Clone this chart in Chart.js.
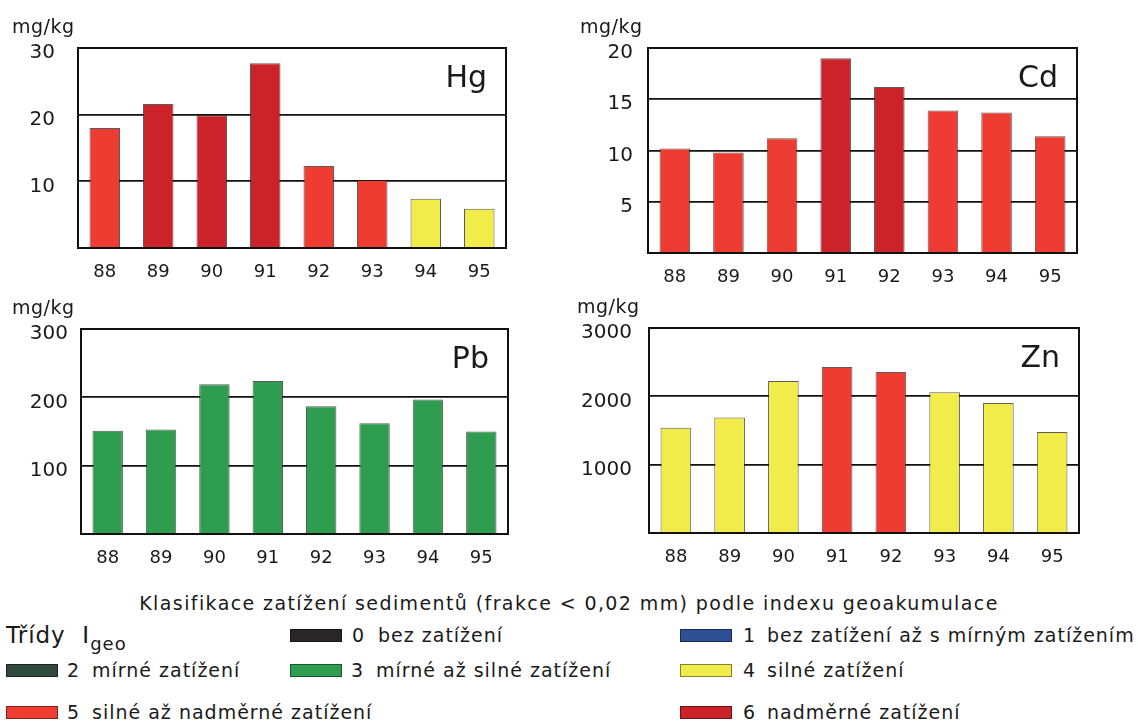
<!DOCTYPE html>
<html>
<head>
<meta charset="utf-8">
<script src="https://cdn.jsdelivr.net/npm/chart.js@4.4.0/dist/chart.umd.min.js"></script>
<style>
  body { margin: 0; background: #fff; width: 1138px; height: 724px; position: relative; overflow: hidden;
         font-family: "DejaVu Sans", sans-serif; color: #1a1a1a; }
  canvas { position: absolute; }
  .txt { position: absolute; white-space: nowrap; font-size: 19px; line-height: 22px; letter-spacing: 1px; }
  .sw { position: absolute; width: 52px; height: 13px; box-sizing: border-box; border: 1px solid rgba(0,0,0,0.45); }
  #legend-title { left: 0; width: 1138px; top: 592px; text-align: center; font-size: 19px; letter-spacing: 1.4px; }
</style>
</head>
<body>
<canvas id="hg" width="536" height="283" style="left:0px;top:0px"></canvas>
<canvas id="cd" width="537" height="283" style="left:570px;top:0px"></canvas>
<canvas id="pb" width="535" height="283" style="left:3px;top:281px"></canvas>
<canvas id="zn" width="538" height="283" style="left:571px;top:280px"></canvas>

<div class="txt" id="legend-title">Klasifikace zatížení sedimentů (frakce &lt; 0,02 mm) podle indexu geoakumulace</div>
<div id="legend"></div>

<script>
// years on the x axis
const years = ['88', '89', '90', '91', '92', '93', '94', '95'];

// concentrations in mg/kg and their Igeo class per year
const hgValues = [18.0, 21.6, 19.9, 27.7, 12.3, 10.2, 7.4, 5.9];
const hgClasses = [5, 6, 6, 6, 5, 5, 4, 4];
const cdValues = [10.2, 9.8, 11.2, 19.0, 16.2, 13.9, 13.7, 11.4];
const cdClasses = [5, 5, 5, 6, 6, 5, 5, 5];
const pbValues = [151, 153, 219, 224, 187, 162, 197, 150];
const pbClasses = [3, 3, 3, 3, 3, 3, 3, 3];
const znValues = [1542, 1692, 2225, 2430, 2357, 2059, 1903, 1479];
const znClasses = [4, 4, 4, 5, 5, 4, 4, 4];

// Igeo classes 0..6
const classColors = ['#2a2527', '#2f4f95', '#2d4a3c', '#2f9d50', '#f2ec4a', '#ee3c32', '#cc232a'];
const classNames = [
    'bez zatížení',
    'bez zatížení až s mírným zatížením',
    'mírné zatížení',
    'mírné až silné zatížení',
    'silné zatížení',
    'silné až nadměrné zatížení',
    'nadměrné zatížení'
];

// frame around the plot, unit above the axis, element symbol in the corner
const framePlugin = {
    id: 'frame',
    afterDatasetsDraw(chart, args, opts) {
        const a = chart.chartArea;
        const ctx = chart.ctx;
        ctx.save();
        ctx.strokeStyle = '#111';
        ctx.lineWidth = 2;
        ctx.strokeRect(a.left, a.top, a.right - a.left, a.bottom - a.top);
        ctx.fillStyle = '#1a1a1a';
        ctx.font = '30px "DejaVu Sans"';
        ctx.textAlign = 'right';
        ctx.textBaseline = 'alphabetic';
        ctx.fillText(opts.symbol, a.right - 19, a.top + 39);
        ctx.font = '19px "DejaVu Sans"';
        ctx.letterSpacing = '0.5px';
        ctx.textAlign = 'left';
        ctx.fillText('mg/kg', opts.unitX, a.top - 15);
        ctx.restore();
    }
};

function drawChart(id, symbol, values, classes, max, step, tickPad, unitX) {
    const ctx = document.getElementById(id).getContext('2d');
    return new Chart(ctx, {
        type: 'bar',
        data: {
            labels: years,
            datasets: [{
                data: values,
                backgroundColor: classes.map(c => classColors[c]),
                borderColor: 'rgba(30,20,20,0.7)',
                borderWidth: 1,
                borderSkipped: 'bottom',
                barPercentage: 0.57,
                categoryPercentage: 1
            }]
        },
        options: {
            responsive: false,
            animation: false,
            devicePixelRatio: 1,
            layout: { padding: { top: 48, right: 30, left: 0, bottom: 0 } },
            plugins: {
                legend: { display: false },
                tooltip: { enabled: false },
                frame: { symbol: symbol, unitX: unitX }
            },
            scales: {
                x: {
                    grid: { display: false },
                    border: { display: false },
                    ticks: { color: '#1a1a1a', font: { family: 'DejaVu Sans', size: 18 }, padding: 6, maxRotation: 0 },
                    afterFit: s => { s.height = 30; }
                },
                y: {
                    min: 0,
                    max: max,
                    border: { display: false },
                    grid: { color: '#111', lineWidth: 1.8, drawTicks: false },
                    ticks: {
                        stepSize: step,
                        color: '#1a1a1a',
                        font: { family: 'DejaVu Sans', size: 20 },
                        padding: tickPad,
                        labelOffset: 5,
                        callback: v => v === 0 ? '' : v
                    },
                    afterFit: s => { s.width = 78; }
                }
            }
        },
        plugins: [framePlugin]
    });
}

drawChart('hg', 'Hg', hgValues, hgClasses, 30, 10, 23, 12);
drawChart('cd', 'Cd', cdValues, cdClasses, 20, 5, 15, 10);
drawChart('pb', 'Pb', pbValues, pbClasses, 300, 100, 13, 9);
drawChart('zn', 'Zn', znValues, znClasses, 3000, 1000, 17, 6);

// class legend: [class, swatch x, row y, number x, text x]
const legendSlots = [
    [0, 290, 629, 352, 378], [1, 680, 629, 743, 767],
    [2, 6, 664, 67, 92], [3, 290, 664, 351, 376], [4, 680, 664, 743, 767],
    [5, 6, 706, 67, 92], [6, 680, 706, 743, 767]
];
const legend = document.getElementById('legend');
let html = '<div class="txt" style="left:6px;top:624px;font-size:23px">Třídy&nbsp;&nbsp;I<sub style="font-size:18px;vertical-align:-7px">geo</sub></div>';
legendSlots.forEach(([c, x, y, nx, tx]) => {
    html += `<div class="sw" style="left:${x}px;top:${y}px;background:${classColors[c]}"></div>`;
    html += `<div class="txt" style="left:${nx}px;top:${y - 5}px">${c}</div>`;
    html += `<div class="txt" style="left:${tx}px;top:${y - 5}px">${classNames[c]}</div>`;
});
legend.innerHTML = html;
</script>
</body>
</html>
